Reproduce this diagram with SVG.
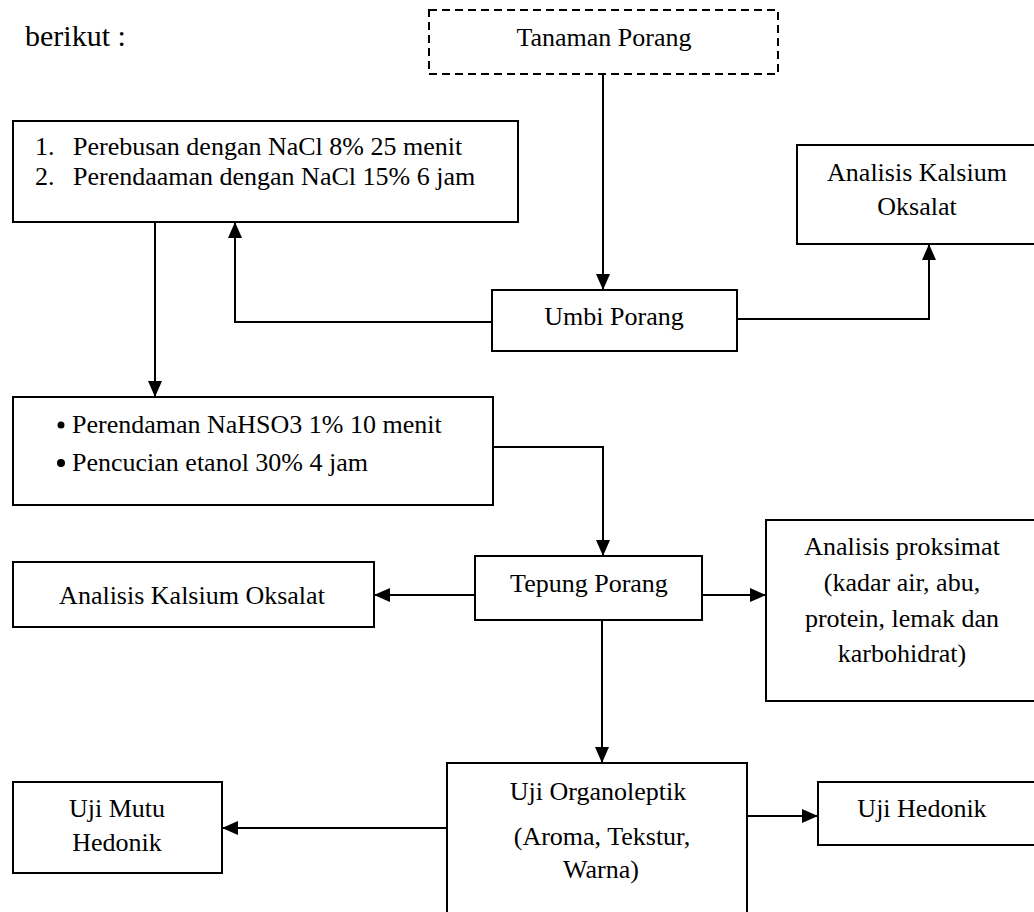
<svg xmlns="http://www.w3.org/2000/svg" width="1034" height="912" viewBox="0 0 1034 912">
<defs>
<style>
.box{fill:#fff;stroke:#000;stroke-width:2}
.dash{fill:#fff;stroke:#000;stroke-width:2;stroke-dasharray:8 5}
.t{font-family:"Liberation Serif","Times New Roman",serif;font-size:26px;fill:#000}
.c{text-anchor:middle}
.ln{fill:none;stroke:#000;stroke-width:2;marker-end:url(#ah)}
</style>
<marker id="ah" markerUnits="userSpaceOnUse" markerWidth="16" markerHeight="14" refX="16" refY="7" orient="auto">
<path d="M0,0 L16,7 L0,14 z" fill="#000"/>
</marker>
</defs>
<rect width="1034" height="912" fill="#fff"/>
<text class="t" x="25" y="46" style="font-size:30px">berikut :</text>

<g id="connectors">
<path class="ln" d="M603,75 V290"/>
<path class="ln" d="M492,322 H235 V222"/>
<path class="ln" d="M737,319 H929 V244"/>
<path class="ln" d="M155,222 V397"/>
<path class="ln" d="M493,447 H603 V556"/>
<path class="ln" d="M475,595 H374"/>
<path class="ln" d="M702,595 H766"/>
<path class="ln" d="M602,620 V763"/>
<path class="ln" d="M447,828 H222"/>
<path class="ln" d="M747,816 H818"/>
</g>

<g id="tanaman">
<rect class="dash" x="429" y="10" width="349" height="64"/>
<text class="t c" x="604" y="46">Tanaman Porang</text>
</g>

<g id="perebusan">
<rect class="box" x="13" y="121" width="505" height="101"/>
<text class="t"><tspan x="35" y="155">1.</tspan><tspan x="73" y="155">Perebusan dengan NaCl 8% 25 menit</tspan></text>
<text class="t"><tspan x="35" y="185">2.</tspan><tspan x="73" y="185">Perendaaman dengan NaCl 15% 6 jam</tspan></text>
</g>

<g id="analisis-kalsium-1">
<rect class="box" x="797" y="145" width="245" height="99"/>
<text class="t c" x="917" y="181">Analisis Kalsium</text>
<text class="t c" x="917" y="215">Oksalat</text>
</g>

<g id="umbi">
<rect class="box" x="492" y="290" width="245" height="61"/>
<text class="t c" x="614" y="325">Umbi Porang</text>
</g>

<g id="perendaman">
<rect class="box" x="13" y="397" width="480" height="108"/>
<circle cx="61" cy="425" r="3.5"/>
<circle cx="61" cy="463" r="4"/>
<text class="t" x="72" y="433">Perendaman NaHSO3 1% 10 menit</text>
<text class="t" x="72" y="471">Pencucian etanol 30% 4 jam</text>
</g>

<g id="tepung">
<rect class="box" x="475" y="556" width="227" height="64"/>
<text class="t c" x="589" y="592">Tepung Porang</text>
</g>

<g id="analisis-kalsium-2">
<rect class="box" x="13" y="562" width="361" height="65"/>
<text class="t c" x="192" y="604">Analisis Kalsium Oksalat</text>
</g>

<g id="proksimat">
<rect class="box" x="766" y="520" width="276" height="181"/>
<text class="t c" x="902" y="555">Analisis proksimat</text>
<text class="t c" x="902" y="591">(kadar air, abu,</text>
<text class="t c" x="902" y="627">protein, lemak dan</text>
<text class="t c" x="902" y="662">karbohidrat)</text>
</g>

<g id="organoleptik">
<rect class="box" x="447" y="763" width="300" height="160"/>
<text class="t c" x="598" y="800">Uji Organoleptik</text>
<text class="t c" x="602" y="845">(Aroma, Tekstur,</text>
<text class="t c" x="601" y="878">Warna)</text>
</g>

<g id="mutu-hedonik">
<rect class="box" x="13" y="782" width="209" height="91"/>
<text class="t c" x="117" y="817">Uji Mutu</text>
<text class="t c" x="117" y="851">Hedonik</text>
</g>

<g id="hedonik">
<rect class="box" x="818" y="782" width="224" height="63"/>
<text class="t c" x="922" y="817">Uji Hedonik</text>
</g>
</svg>
